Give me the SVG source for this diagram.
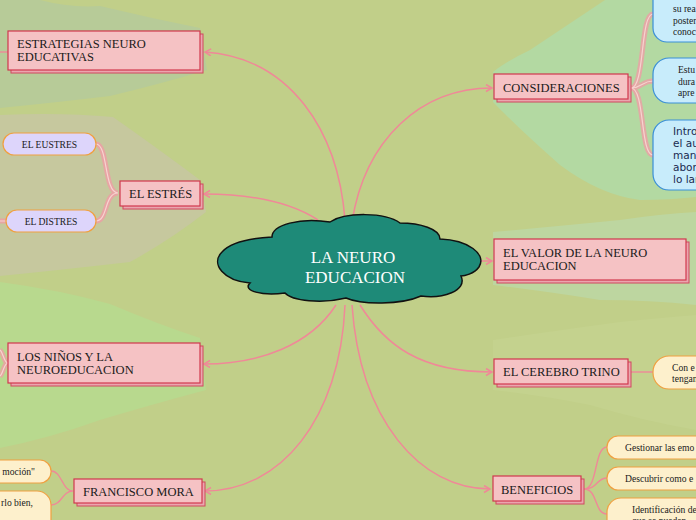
<svg xmlns="http://www.w3.org/2000/svg" width="696" height="520" viewBox="0 0 696 520">
<defs>
<marker id="arr" markerUnits="userSpaceOnUse" markerWidth="10" markerHeight="10" refX="7" refY="4" orient="auto">
<path d="M1,0.5 L7,4 L1,7.5" fill="none" stroke="#f08898" stroke-width="1.5"/>
</marker>
<style>
.conn{fill:none;stroke:#f08898;stroke-width:1.5}
.sub{fill:none;stroke:#f08898;stroke-width:1.4}
.tripA{fill:none;stroke:#f29aa6;stroke-width:5;stroke-opacity:0.75}
.tripB{fill:none;stroke:#f8d2d0;stroke-width:1.2}
.bx{fill:#f5c2c4;stroke:#d0384e;stroke-width:1.2}
.sh{fill:#eaa6ae;stroke:#d0485e;stroke-width:1}
.t{font-family:"Liberation Serif","Times New Roman",serif;font-size:12.5px;fill:#1a1a1a}
.ts{font-family:"Liberation Serif","Times New Roman",serif;font-size:9.6px;fill:#1a1a1a}
.tsans{font-family:"DejaVu Sans",Verdana,sans-serif;font-size:10.5px;fill:#1a2a50}
.lav{fill:#ddd5fb;stroke:#f0a040;stroke-width:1.2}
.yel{fill:#fdf0cc;stroke:#f0a040;stroke-width:1.2}
.blu{fill:#c8ecfb;stroke:#3a8fd8;stroke-width:1.2}
</style>
</defs>
<!-- background -->
<rect width="696" height="520" fill="#c1cf89"/>
<path d="M0,0 L40,0 Q70,8 100,6 Q150,18 200,28 L207,70 Q160,84 110,96 Q60,102 0,108 Z" fill="#b7cb98"/>
<path d="M0,115 Q60,112 113,117 Q160,150 200,180 L206,212 Q170,240 130,262 Q60,270 0,276 Z" fill="#c6c89e"/>
<path d="M0,282 Q60,290 110,304 Q160,325 200,338 L206,390 Q150,405 100,420 Q50,438 0,448 Z" fill="#b8d98e"/>
<path d="M605,0 Q560,30 530,50 Q505,62 493,72 L493,102 Q520,130 560,165 Q600,195 640,200 Q670,200 696,197 L696,0 Z" fill="#b3d9a2"/>
<path d="M493,232 Q560,226 620,220 Q660,214 696,212 L696,305 Q650,300 600,300 Q550,292 493,285 Z" fill="#bdd6a0"/>
<path d="M493,340 Q560,330 620,322 Q660,318 696,315 L696,430 Q640,420 590,405 Q540,395 493,390 Z" fill="#c4d28e"/>
<!-- connectors -->
<g id="connectors">
<path class="conn" d="M345,220 C338,130 290,58 205,52" marker-end="url(#arr)"/>
<path class="conn" d="M318,220 C290,202 250,194 204,194" marker-end="url(#arr)"/>
<path class="conn" d="M352,222 C365,140 420,88 492,88" marker-end="url(#arr)"/>
<path class="conn" d="M480,261 L492,261" marker-end="url(#arr)"/>
<path class="conn" d="M360,305 C385,345 420,372 492,372" marker-end="url(#arr)"/>
<path class="conn" d="M352,305 C360,420 420,489 490,489" marker-end="url(#arr)"/>
<path class="conn" d="M336,305 C310,345 260,364 204,364" marker-end="url(#arr)"/>
<path class="conn" d="M345,305 C340,420 280,491 205,491" marker-end="url(#arr)"/>
<!-- sub connectors -->
<path class="tripA" d="M118,193 C104,193 108,144 96,144 M118,193 C104,193 108,221 96,221 M6,221 L0,221 M8,363 C4,363 3,352 0,350 M8,363 C4,363 3,374 0,376"/>
<path class="tripB" d="M118,193 C104,193 108,144 96,144 M118,193 C104,193 108,221 96,221 M6,221 L0,221 M8,363 C4,363 3,352 0,350 M8,363 C4,363 3,374 0,376"/>
<path class="tripA" d="M631,88 C645,88 640,14 653,14 M631,88 C642,88 642,81 653,81 M631,88 C645,88 640,155 653,155"/>
<path class="tripB" d="M631,88 C645,88 640,14 653,14 M631,88 C642,88 642,81 653,81 M631,88 C645,88 640,155 653,155"/>
<path class="sub" d="M0,52 L8,52"/>
<path class="sub" stroke-width="2" d="M631,372 L653,372"/>
<path class="sub" d="M584,489 C598,489 594,447 607,447 M584,489 C598,489 596,478 607,478 M584,489 C598,489 594,514 607,514"/>
<path class="sub" d="M73,491 C62,491 62,471 51,471 M73,491 C62,491 62,505 51,505"/>
</g>
<!-- central cloud -->
<g id="center">
<path d="M250,283 C224,281 210,264 222,252 C232,241 255,238 272,237 C272,225 300,217 330,222 C345,212 385,212 400,223 C420,223 440,229 440,239 C468,240 487,254 479,267 C474,274 464,276 461,276 C468,291 442,299 421,296 C401,305 362,305 346,298 C322,304 292,301 285,293 C262,296 242,291 250,283 Z" fill="#1e8a78" stroke="#111" stroke-width="1.5"/>
<text x="353" y="263" text-anchor="middle" font-family="'Liberation Serif','Times New Roman',serif" font-size="17" fill="#ffffff">LA NEURO</text>
<text x="355" y="283" text-anchor="middle" font-family="'Liberation Serif','Times New Roman',serif" font-size="17" fill="#ffffff">EDUCACION</text>
</g>
<!-- main nodes -->
<g id="estrategias">
<rect class="sh" x="11" y="34" width="192" height="39"/>
<rect class="bx" x="8" y="31" width="192" height="39"/>
<text class="t" x="17" y="47.5">ESTRATEGIAS NEURO</text>
<text class="t" x="17" y="61">EDUCATIVAS</text>
</g>
<g id="estres">
<rect class="sh" x="123" y="184" width="80" height="25"/>
<rect class="bx" x="120" y="181" width="80" height="25"/>
<text class="t" x="129" y="197.5">EL ESTRÉS</text>
</g>
<g id="eustres">
<rect class="lav" x="3" y="133" width="93" height="22" rx="11"/>
<text class="ts" x="49.5" y="147.5" text-anchor="middle">EL EUSTRES</text>
</g>
<g id="distres">
<rect class="lav" x="6" y="210" width="90" height="22" rx="11"/>
<text class="ts" x="51" y="224.5" text-anchor="middle">EL DISTRES</text>
</g>
<g id="ninos">
<rect class="sh" x="11" y="346" width="192" height="40"/>
<rect class="bx" x="8" y="343" width="192" height="40"/>
<text class="t" x="17" y="360.5">LOS NIÑOS Y LA</text>
<text class="t" x="17" y="374">NEUROEDUCACION</text>
</g>
<g id="mora">
<rect class="sh" x="77" y="482" width="128" height="24"/>
<rect class="bx" x="74" y="479" width="128" height="24"/>
<text class="t" x="83" y="495.5">FRANCISCO MORA</text>
</g>
<g id="mora1">
<rect class="yel" x="-30" y="460" width="81" height="23" rx="11"/>
<text class="ts" x="35" y="475" text-anchor="end">moción"</text>
</g>
<g id="mora2">
<rect class="yel" x="-30" y="491" width="81" height="45" rx="14"/>
<text class="ts" x="33" y="505.5" text-anchor="end">rlo bien,</text>
</g>
<g id="consideraciones">
<rect class="sh" x="497" y="77" width="134" height="25"/>
<rect class="bx" x="494" y="74" width="134" height="25"/>
<text class="t" x="503" y="91.5">CONSIDERACIONES</text>
</g>
<g id="cons1">
<rect class="blu" x="653" y="-14" width="80" height="56" rx="14"/>
<text class="ts" x="673" y="11.5">su rea</text>
<text class="ts" x="673" y="23.5">poster</text>
<text class="ts" x="673" y="34.5">conoc</text>
</g>
<g id="cons2">
<rect class="blu" x="653" y="58" width="80" height="45" rx="16"/>
<text class="ts" x="678" y="72.5">Estu</text>
<text class="ts" x="678" y="84.5">dura</text>
<text class="ts" x="678" y="95.5">apre</text>
</g>
<g id="cons3">
<rect class="blu" x="653" y="120" width="80" height="70" rx="16"/>
<text class="tsans" x="673" y="135">Intro</text>
<text class="tsans" x="673" y="147">el au</text>
<text class="tsans" x="673" y="159">mane</text>
<text class="tsans" x="673" y="171">abor</text>
<text class="tsans" x="673" y="183">lo lar</text>
</g>
<g id="valor">
<rect class="sh" x="497" y="242" width="192" height="41"/>
<rect class="bx" x="494" y="239" width="192" height="41"/>
<text class="t" x="503" y="256.5">EL VALOR DE LA NEURO</text>
<text class="t" x="503" y="270">EDUCACION</text>
</g>
<g id="cerebro">
<rect class="sh" x="497" y="362" width="134" height="25"/>
<rect class="bx" x="494" y="359" width="134" height="25"/>
<text class="t" x="503" y="375.5">EL CEREBRO TRINO</text>
</g>
<g id="cerebro1">
<rect class="yel" x="653" y="356" width="80" height="33" rx="16"/>
<text class="ts" x="672" y="370.5">Con e</text>
<text class="ts" x="672" y="381.5">tengan</text>
</g>
<g id="beneficios">
<rect class="sh" x="496" y="479" width="88" height="25"/>
<rect class="bx" x="493" y="476" width="88" height="25"/>
<text class="t" x="501" y="493.5">BENEFICIOS</text>
</g>
<g id="ben1">
<rect class="yel" x="607" y="436" width="110" height="23" rx="11"/>
<text class="ts" x="625" y="450.5">Gestionar las emo</text>
</g>
<g id="ben2">
<rect class="yel" x="607" y="467" width="110" height="23" rx="11"/>
<text class="ts" x="625" y="481.5">Descubrir como e</text>
</g>
<g id="ben3">
<rect class="yel" x="607" y="498" width="110" height="40" rx="14"/>
<text class="ts" x="632" y="512.5">Identificación de</text>
<text class="ts" x="632" y="524">que se pueden</text>
</g>
</svg>
